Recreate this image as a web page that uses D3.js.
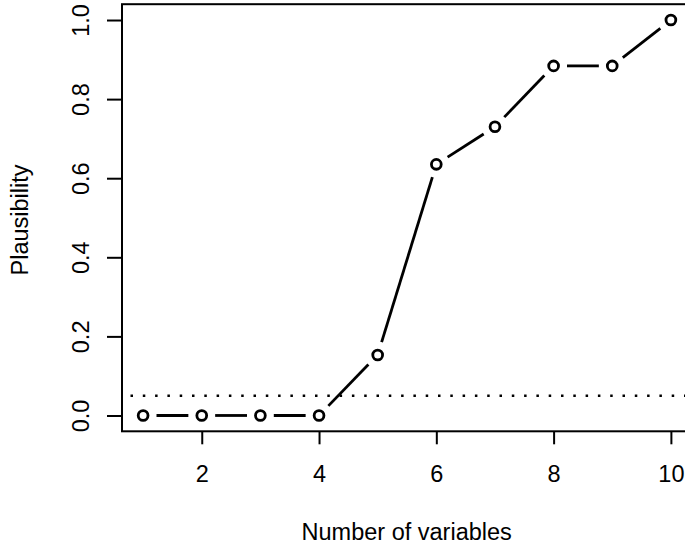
<!DOCTYPE html>
<html>
<head>
<meta charset="utf-8">
<script src="https://cdn.jsdelivr.net/npm/d3@7"></script>
<style>
  body { margin: 0; background: #fff; }
  text { font-family: "Liberation Sans", Arial, sans-serif; fill: #000; }
</style>
</head>
<body>
<svg></svg>
<script>
// values
const nVars = [1, 2, 3, 4, 5, 6, 7, 8, 9, 10];
const plausibility = [0, 0, 0, 0, 0.153, 0.635, 0.730, 0.884, 0.884, 1.0];
const threshold = 0.05;
const xTicks = [2, 4, 6, 8, 10];
const yTicks = [0, 0.2, 0.4, 0.6, 0.8, 1.0];

function main() {
    const canvasWidth = 685;
    const canvasHeight = 545;
    const fontSize = "23.5px";

    // plot region (right edge runs past the window, like the reference)
    const left = 122, right = 692, top = 4.2, bottom = 431.3;

    let svg = d3.select("svg")
        .attr("width", canvasWidth)
        .attr("height", canvasHeight);

    // R style 4% padding on both scales
    let xScale = d3.scaleLinear().domain([0.64, 10.36]).range([left, right]);
    let yScale = d3.scaleLinear().domain([-0.04, 1.04]).range([bottom, top]);

    // X axis
    let xAxis = svg.append("g")
        .attr("transform", `translate(0, ${bottom})`)
        .call(d3.axisBottom(xScale).tickValues(xTicks).tickSize(13).tickPadding(0).tickFormat(d3.format("d")));
    xAxis.select(".domain").remove();
    xAxis.selectAll("line").attr("stroke", "#000").attr("stroke-width", 2);
    xAxis.selectAll("text")
        .attr("dy", null)
        .attr("y", 50.7)
        .style("font-size", fontSize)
        .style("font-family", "'Liberation Sans', Arial, sans-serif");

    // Y axis, labels rotated like R's las=0
    let yAxis = svg.append("g")
        .attr("transform", `translate(${left}, 0)`)
        .call(d3.axisLeft(yScale).tickValues(yTicks).tickSize(15).tickFormat(d3.format(".1f")));
    yAxis.select(".domain").remove();
    yAxis.selectAll("line").attr("stroke", "#000").attr("stroke-width", 2);
    yAxis.selectAll("text")
        .attr("x", null)
        .attr("dy", null)
        .attr("transform", "translate(-33, 0) rotate(-90)")
        .style("font-size", fontSize)
        .style("font-family", "'Liberation Sans', Arial, sans-serif")
        .style("text-anchor", "middle");

    // box
    svg.append("rect")
        .attr("x", left)
        .attr("y", top)
        .attr("width", right - left)
        .attr("height", bottom - top)
        .attr("fill", "none")
        .attr("stroke", "#000")
        .attr("stroke-width", 2);

    // dotted threshold line
    svg.append("line")
        .attr("x1", left)
        .attr("x2", right)
        .attr("y1", yScale(threshold))
        .attr("y2", yScale(threshold))
        .attr("stroke", "#000")
        .attr("stroke-width", 2.5)
        .attr("stroke-dasharray", "2.5,9.8")
        .attr("stroke-dashoffset", 3.8);

    // type = "b": segments with gaps around the points
    const gap = 13.4;
    let pts = nVars.map((v, i) => [xScale(v), yScale(plausibility[i])]);
    let segs = d3.pairs(pts).map(([a, b]) => {
        let dx = b[0] - a[0], dy = b[1] - a[1];
        let len = Math.hypot(dx, dy);
        return { a: a, b: b, ux: dx / len, uy: dy / len, len: len };
    }).filter(s => s.len > 2 * gap);

    svg.append("g").selectAll("line")
        .data(segs)
        .join("line")
        .attr("x1", s => s.a[0] + s.ux * gap)
        .attr("y1", s => s.a[1] + s.uy * gap)
        .attr("x2", s => s.b[0] - s.ux * gap)
        .attr("y2", s => s.b[1] - s.uy * gap)
        .attr("stroke", "#000")
        .attr("stroke-width", 2.8);

    svg.append("g").selectAll("circle")
        .data(pts)
        .join("circle")
        .attr("cx", d => d[0])
        .attr("cy", d => d[1])
        .attr("r", 4.9)
        .attr("fill", "none")
        .attr("stroke", "#000")
        .attr("stroke-width", 2.8);

    // axis titles
    svg.append("text")
        .text("Number of variables")
        .attr("x", 406.7)
        .attr("y", 540)
        .style("font-size", fontSize)
        .style("text-anchor", "middle");

    svg.append("text")
        .text("Plausibility")
        .style("font-size", fontSize)
        .attr("transform", "translate(28.3, 220) rotate(-90)")
        .style("text-anchor", "middle");
}

main();
</script>
</body>
</html>
